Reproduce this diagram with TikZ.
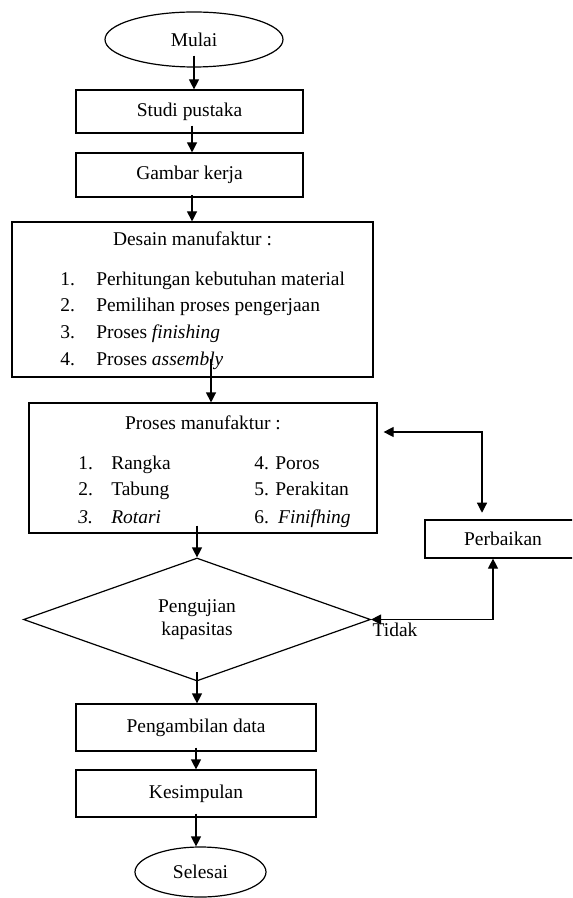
\documentclass[tikz,border=0pt]{standalone}
\usepackage{fontspec}
\setmainfont{Liberation Serif}
\usetikzlibrary{shapes.geometric,arrows.meta}
\begin{document}
\begin{tikzpicture}[
        x=0.75pt, y=-0.75pt,
        every node/.style={font=\fontsize{14.6pt}{17.5pt}\selectfont},
        box/.style={draw, rectangle, line width=0.9pt, inner sep=0pt},
        term/.style={draw, ellipse, line width=0.9pt, inner sep=0pt},
        decision/.style={draw, diamond, line width=0.9pt, inner sep=0pt, align=center},
        txt/.style={inner sep=0pt, anchor=base west},
        title/.style={inner sep=0pt, anchor=base},
        arr/.style={draw, line width=0.9pt, -{Triangle[width=7.5pt,length=7.5pt]}},
        twoway/.style={draw, line width=0.9pt, {Triangle[width=7.5pt,length=7.5pt]}-{Triangle[width=7.5pt,length=7.5pt]}},
    ]
    \useasboundingbox (0,0) rectangle (572,898);
    \clip (0,0) rectangle (572,898);

    \node[term, minimum width=133.5pt, minimum height=41.25pt](mulai) at (194,39.5){Mulai};
    \node[box, minimum width=170.25pt, minimum height=32.25pt](studi) at (189.5,111.5){Studi pustaka};
    \node[box, minimum width=170.25pt, minimum height=33pt](gambar) at (189.5,175){Gambar kerja};

    % desain manufaktur
    \node[box, minimum width=270.75pt, minimum height=116.25pt](desain) at (192.5,299.5){};
    \node[title](desainjudul) at (192.5,246){Desain manufaktur :};
    \node[txt](d1n) at (60,286){1.};
    \node[txt](d1) at (96,286){Perhitungan kebutuhan material};
    \node[txt](d2n) at (60,311){2.};
    \node[txt](d2) at (96,311){Pemilihan proses pengerjaan};
    \node[txt](d3n) at (60,338){3.};
    \node[txt](d3) at (96,338){Proses \textit{finishing}};
    \node[txt](d4n) at (60,365){4.};
    \node[txt](d4) at (96,365){Proses \textit{assembly}};

    % proses manufaktur
    \node[box, minimum width=261pt, minimum height=97.5pt](proses) at (203,468){};
    \node[title](prosesjudul) at (203,429){Proses manufaktur :};
    \node[txt](p1n) at (78,469){1.};
    \node[txt](p1) at (111,469){Rangka};
    \node[txt](p2n) at (78,495){2.};
    \node[txt](p2) at (111,495){Tabung};
    \node[txt](p3n) at (78,523){\textit{3.}};
    \node[txt](p3) at (111,523){\textit{Rotari}};
    \node[txt](p4) at (254,469){4. Poros};
    \node[txt](p5) at (254,495){5. Perakitan};
    \node[txt](p6) at (254,523){6.\hspace{7pt}\textit{Finifhing}};

    \node[decision, minimum width=260.25pt, minimum height=92.25pt](uji) at (197,619.5){Pengujian\\kapasitas};
    \node[title](tidak) at (395,636){Tidak};
    \node[box, minimum width=117pt, minimum height=28.5pt](perbaikan) at (503,539){Perbaikan};

    \node[box, minimum width=180pt, minimum height=35.25pt](ambil) at (196,727.5){Pengambilan data};
    \node[box, minimum width=180pt, minimum height=35.25pt](simpul) at (196,793.5){Kesimpulan};
    \node[term, minimum width=98.25pt, minimum height=37.5pt](selesai) at (200.5,872){Selesai};

    % alur
    \draw[arr, shorten <=-9pt] (mulai.south) -- (mulai.south |- studi.north);
    \draw[arr, shorten <=-6pt] ([xshift=1.9pt]studi.south) -- ([xshift=1.9pt]studi.south |- gambar.north);
    \draw[arr, shorten <=-2pt] ([xshift=1.9pt]gambar.south) -- ([xshift=1.9pt]gambar.south |- desain.north);
    \draw[arr, shorten <=-14pt] ([xshift=13.9pt]desain.south) -- ([xshift=13.9pt]desain.south |- proses.north);
    \draw[arr, shorten <=-6pt] (proses.south -| uji.north) -- (uji.north);
    \draw[arr, shorten <=-7pt] (uji.south) -- (uji.south |- ambil.north);
    \draw[arr, shorten <=-3pt] (ambil.south) -- (simpul.north);
    \draw[arr, shorten <=-3pt] (simpul.south) -- (simpul.south |- selesai.north);

    % perbaikan
    \draw[twoway] (uji.east) -| ([xshift=-7.5pt]perbaikan.south);
    \draw[twoway, shorten <=4.5pt, shorten >=5pt] ([yshift=27pt]proses.east) -| ([xshift=-15.75pt]perbaikan.north);
    \end{tikzpicture}
\end{document}
